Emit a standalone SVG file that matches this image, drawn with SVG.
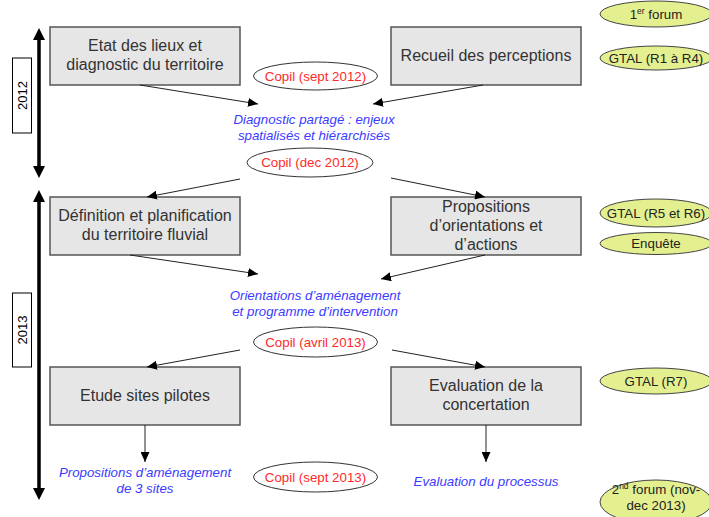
<svg xmlns="http://www.w3.org/2000/svg" width="709" height="517" viewBox="0 0 709 517">
<defs>
<style>
.box{fill:#e6e6e6;stroke:#555;stroke-width:1.5}
.bt{font-family:"Liberation Sans",Arial,sans-serif;font-size:16px;fill:#333;text-anchor:middle}
.copil{fill:#fff;stroke:#333;stroke-width:1}
.ct{font-family:"Liberation Sans",Arial,sans-serif;font-size:13.3px;fill:#ff2a2a;text-anchor:middle}
.green{fill:#e4f08f;stroke:#444;stroke-width:1}
.gt{font-family:"Liberation Sans",Arial,sans-serif;font-size:13.3px;fill:#222;text-anchor:middle}
.blue{font-family:"Liberation Sans",Arial,sans-serif;font-size:13.3px;font-style:italic;fill:#3b3bff;text-anchor:middle}
.yr{fill:#fff;stroke:#000;stroke-width:1}
.yt{font-family:"Liberation Sans",Arial,sans-serif;font-size:13px;fill:#000;text-anchor:middle}
.con{stroke:#222;stroke-width:1;fill:none;marker-end:url(#ah)}
.tl{stroke:#000;stroke-width:3.5;fill:none}
</style>
<marker id="ah" viewBox="0 0 10 10" refX="10" refY="5" markerWidth="10" markerHeight="9" markerUnits="userSpaceOnUse" orient="auto" preserveAspectRatio="none">
<path d="M0,0 L10,5 L0,10 z" fill="#000"/>
</marker>
</defs>
<rect width="709" height="517" fill="#fff"/>

<g id="timeline">
<line class="tl" x1="39" y1="38" x2="39" y2="168"/>
<path d="M33,40 L39,28 L45,40 z M33,166 L39,178 L45,166 z" fill="#000"/>
<line class="tl" x1="39" y1="200" x2="39" y2="490"/>
<path d="M33,202 L39,190 L45,202 z M33,488 L39,500 L45,488 z" fill="#000"/>
</g>
<g id="year2012">
<rect class="yr" x="12.5" y="58" width="19" height="75"/>
<text class="yt" transform="translate(26.5,95.5) rotate(-90)">2012</text>
</g>
<g id="year2013">
<rect class="yr" x="12.5" y="293" width="19" height="74"/>
<text class="yt" transform="translate(26.5,330) rotate(-90)">2013</text>
</g>

<g id="n-etat">
<rect class="box" x="50" y="27" width="190" height="58"/>
<text class="bt" x="145" y="51">Etat des lieux et</text>
<text class="bt" x="145" y="70">diagnostic du territoire</text>
</g>
<g id="n-recueil">
<rect class="box" x="391" y="27" width="190" height="58"/>
<text class="bt" x="486" y="61">Recueil des perceptions</text>
</g>
<g id="n-definition">
<rect class="box" x="50" y="197" width="190" height="58"/>
<text class="bt" x="145" y="221">Définition et planification</text>
<text class="bt" x="145" y="240">du territoire fluvial</text>
</g>
<g id="n-propositions">
<rect class="box" x="391" y="197" width="190" height="58"/>
<text class="bt" x="486" y="212">Propositions</text>
<text class="bt" x="486" y="231">d’orientations et</text>
<text class="bt" x="486" y="250">d’actions</text>
</g>
<g id="n-etude">
<rect class="box" x="50" y="367" width="190" height="58"/>
<text class="bt" x="145" y="401">Etude sites pilotes</text>
</g>
<g id="n-evaluation">
<rect class="box" x="391" y="367" width="190" height="58"/>
<text class="bt" x="486" y="391">Evaluation de la</text>
<text class="bt" x="486" y="410">concertation</text>
</g>

<g id="n-copil1">
<ellipse class="copil" cx="315.5" cy="76" rx="62" ry="14"/>
<text class="ct" x="315.5" y="80.5">Copil (sept 2012)</text>
</g>
<g id="n-diag">
<text class="blue" x="314" y="124">Diagnostic partagé : enjeux</text>
<text class="blue" x="314" y="140">spatialisés et hiérarchisés</text>
</g>
<g id="n-copil2">
<ellipse class="copil" cx="310" cy="162.5" rx="63" ry="14.5"/>
<text class="ct" x="310" y="167">Copil (dec 2012)</text>
</g>
<g id="n-orient">
<text class="blue" x="315" y="300">Orientations d’aménagement</text>
<text class="blue" x="315" y="316">et programme d’intervention</text>
</g>
<g id="n-copil3">
<ellipse class="copil" cx="315.5" cy="342" rx="62" ry="15"/>
<text class="ct" x="315.5" y="346.5">Copil (avril 2013)</text>
</g>
<g id="n-propam">
<text class="blue" x="145" y="477">Propositions d’aménagement</text>
<text class="blue" x="145" y="493">de 3 sites</text>
</g>
<g id="n-copil4">
<ellipse class="copil" cx="315.5" cy="477" rx="62" ry="15"/>
<text class="ct" x="315.5" y="481.5">Copil (sept 2013)</text>
</g>
<g id="n-evalproc">
<text class="blue" x="486" y="486">Evaluation du processus</text>
</g>

<g id="n-forum1">
<ellipse class="green" cx="656" cy="14" rx="56" ry="13"/>
<text class="gt" x="656" y="18.5">1<tspan font-size="8.5" dy="-5">er</tspan><tspan dy="5"> forum</tspan></text>
</g>
<g id="n-gtal1">
<ellipse class="green" cx="656" cy="58" rx="56" ry="12"/>
<text class="gt" x="656" y="62.5">GTAL (R1 à R4)</text>
</g>
<g id="n-gtal2">
<ellipse class="green" cx="656" cy="213" rx="56" ry="14"/>
<text class="gt" x="656" y="217.5">GTAL (R5 et R6)</text>
</g>
<g id="n-enquete">
<ellipse class="green" cx="656" cy="243.5" rx="56" ry="11"/>
<text class="gt" x="656" y="248">Enquête</text>
</g>
<g id="n-gtal3">
<ellipse class="green" cx="656" cy="381" rx="56" ry="13"/>
<text class="gt" x="656" y="385.5">GTAL (R7)</text>
</g>
<g id="n-forum2">
<ellipse class="green" cx="656" cy="502" rx="56" ry="22"/>
<text class="gt" x="656" y="494">2<tspan font-size="8.5" dy="-5">nd</tspan><tspan dy="5"> forum (nov-</tspan></text>
<text class="gt" x="656" y="510">dec 2013)</text>
</g>

<g id="connectors">
<line class="con" x1="140" y1="85" x2="258" y2="104"/>
<line class="con" x1="483" y1="85" x2="373" y2="104"/>
<line class="con" x1="240" y1="179" x2="147" y2="197"/>
<line class="con" x1="391" y1="178" x2="485" y2="197"/>
<line class="con" x1="130" y1="255" x2="258" y2="274"/>
<line class="con" x1="485" y1="255" x2="381" y2="279"/>
<line class="con" x1="240" y1="350" x2="147" y2="367"/>
<line class="con" x1="392" y1="350" x2="485" y2="367"/>
<line class="con" x1="145" y1="425" x2="145" y2="462"/>
<line class="con" x1="486" y1="425" x2="486" y2="462"/>
</g>
</svg>
